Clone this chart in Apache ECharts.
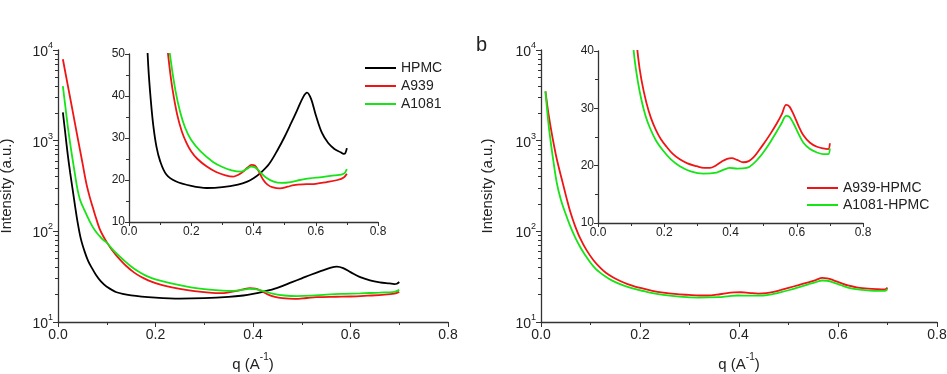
<!doctype html>
<html lang="en">
<head>
<meta charset="utf-8"/>
<title>SAXS intensity curves</title>
<style>
  html, body { margin: 0; padding: 0; background: #fff; }
  #chart { width: 947px; height: 374px; }
</style>
</head>
<body>
<div id="chart"></div>
<script src="https://cdn.jsdelivr.net/npm/echarts@6.0.0/dist/echarts.min.js"></script>
<script>
// panel a: pure HPMC and the two additives (same data feeds the main plot and the inset)
const hpmcQ = [0.01, 0.015, 0.02, 0.025, 0.03, 0.035, 0.04, 0.047, 0.055, 0.062, 0.07, 0.078, 0.088, 0.1, 0.12, 0.15, 0.2, 0.25, 0.3, 0.35, 0.38, 0.4, 0.42, 0.45, 0.48, 0.5, 0.52, 0.54, 0.56, 0.572, 0.585, 0.6, 0.62, 0.64, 0.66, 0.68, 0.69, 0.695, 0.7];
const hpmcI = [2050, 1200, 700, 440, 290, 190, 128, 82, 59, 47, 39, 33, 28, 24.5, 21.3, 19.7, 18.6, 18.1, 18.3, 18.9, 19.6, 20.4, 21.5, 23.8, 27.5, 30.3, 33.4, 36.6, 39.8, 40.8, 39.3, 35.5, 31.2, 28.8, 27.4, 26.6, 26.2, 26.4, 27.6];

const a939Q = [0.01, 0.02, 0.03, 0.04, 0.05, 0.058, 0.065, 0.071, 0.078, 0.085, 0.092, 0.1, 0.11, 0.12, 0.13, 0.14, 0.155, 0.17, 0.185, 0.2, 0.22, 0.25, 0.28, 0.31, 0.335, 0.35, 0.367, 0.38, 0.394, 0.405, 0.415, 0.43, 0.445, 0.46, 0.485, 0.51, 0.53, 0.57, 0.6, 0.635, 0.67, 0.69, 0.7];
const a939I = [7900, 4100, 2130, 1100, 575, 340, 240, 187, 140, 108, 90, 76, 63, 54, 47, 41.5, 35.5, 31.5, 28.8, 26.8, 25, 23.2, 21.9, 21.1, 20.8, 21.2, 22, 22.9, 23.6, 23.4, 22.3, 20.2, 18.9, 18.3, 18, 18.4, 18.8, 19, 19.1, 19.5, 20, 20.6, 21.5];

const a1081Q = [0.01, 0.015, 0.02, 0.025, 0.03, 0.035, 0.04, 0.045, 0.051, 0.058, 0.068, 0.076, 0.085, 0.092, 0.1, 0.11, 0.12, 0.135, 0.15, 0.165, 0.18, 0.2, 0.23, 0.27, 0.3, 0.33, 0.36, 0.38, 0.392, 0.405, 0.42, 0.44, 0.465, 0.49, 0.52, 0.55, 0.58, 0.62, 0.66, 0.69, 0.7];
const a1081I = [4000, 2400, 1450, 930, 620, 420, 290, 225, 187, 155, 120, 102, 89, 81, 75, 65, 57, 48, 41, 36, 32.5, 29.5, 26.8, 24.3, 23.1, 22.3, 22, 22.7, 23.2, 23, 22, 20.6, 19.6, 19.3, 19.5, 20, 20.4, 20.7, 21.1, 21.5, 22.6];

// panel b: the complexes
const a939hQ = [0.009, 0.015, 0.022, 0.03, 0.037, 0.044, 0.051, 0.059, 0.068, 0.079, 0.092, 0.106, 0.121, 0.131, 0.146, 0.16, 0.175, 0.19, 0.207, 0.225, 0.247, 0.27, 0.298, 0.32, 0.338, 0.355, 0.373, 0.39, 0.404, 0.42, 0.439, 0.455, 0.47, 0.485, 0.5, 0.52, 0.54, 0.555, 0.568, 0.578, 0.59, 0.605, 0.62, 0.64, 0.661, 0.68, 0.695, 0.7];
const a939hI = [3500, 2000, 1180, 700, 480, 340, 240, 165, 118, 84, 62, 48, 39, 35, 31, 28.3, 26.2, 24.6, 23.3, 22.1, 21.1, 20.4, 19.9, 19.6, 19.6, 20, 20.7, 21.2, 21.3, 21, 20.6, 20.8, 21.5, 22.6, 23.8, 25.5, 27.4, 29, 30.6, 30.3, 29, 27, 25.3, 24, 23.3, 23, 22.9, 23.9];

const a1081hQ = [0.009, 0.013, 0.017, 0.024, 0.032, 0.04, 0.049, 0.058, 0.069, 0.08, 0.09, 0.1, 0.11, 0.12, 0.131, 0.143, 0.156, 0.175, 0.197, 0.22, 0.247, 0.28, 0.318, 0.358, 0.38, 0.398, 0.42, 0.449, 0.47, 0.485, 0.5, 0.52, 0.54, 0.555, 0.568, 0.578, 0.59, 0.605, 0.62, 0.64, 0.661, 0.68, 0.695, 0.7];
const a1081hI = [3500, 2000, 1250, 650, 340, 225, 160, 118, 86, 66, 54, 45, 38.8, 34.8, 31.5, 28.8, 26.7, 24.4, 22.6, 21.1, 19.9, 19, 18.6, 18.8, 19.3, 19.6, 19.5, 19.6, 20.4, 21.3, 22.4, 24.1, 26, 27.5, 28.7, 28.5, 27.4, 25.6, 24, 22.9, 22.3, 22, 22, 23];

// log-axis minor tick values (2..9 per decade)
const logMinorTicks = [20, 30, 40, 50, 60, 70, 80, 90, 200, 300, 400, 500, 600, 700, 800, 900, 2000, 3000, 4000, 5000, 6000, 7000, 8000, 9000];

const FONT = '"Liberation Sans", Arial, sans-serif';
const INK = '#222';
const RED = '#f01414';
const GREEN = '#16e416';
const BLACK = '#000';

const pair = (qs, vs) => qs.map((q, i) => [q, vs[i]]);
const supRich = {
  b: { fontSize: 14, fontFamily: FONT, color: INK, lineHeight: 18, verticalAlign: 'bottom' },
  s: { fontSize: 9, fontFamily: FONT, color: INK, lineHeight: 18, verticalAlign: 'top' },
};
const nameRich = {
  n: { fontSize: 15, fontFamily: FONT, color: INK, lineHeight: 20, verticalAlign: 'bottom' },
  s: { fontSize: 10, fontFamily: FONT, color: INK, lineHeight: 20, verticalAlign: 'top' },
};

const axLine = { show: true, lineStyle: { color: '#333', width: 1.3 } };

function mainX(gridIndex) {
  return {
    type: 'value', gridIndex, min: 0, max: 0.8, interval: 0.2,
    axisLine: axLine,
    axisTick: { show: true, length: 5, lineStyle: { color: '#333' } },
    minorTick: { show: true, splitNumber: 2, length: 3, lineStyle: { color: '#333' } },
    splitLine: { show: false },
    axisLabel: { fontSize: 14, fontFamily: FONT, color: INK, margin: 6, formatter: v => v.toFixed(1) },
    name: '{n|q (A}{s|-1}{n|)}', nameLocation: 'middle', nameGap: 30,
    nameTextStyle: { rich: nameRich },
  };
}
function insetX(gridIndex) {
  return {
    type: 'value', gridIndex, min: 0, max: 0.8, interval: 0.2,
    axisLine: axLine,
    axisTick: { show: true, length: 4, lineStyle: { color: '#333' } },
    minorTick: { show: true, splitNumber: 2, length: 3, lineStyle: { color: '#333' } },
    splitLine: { show: false },
    axisLabel: { fontSize: 12, fontFamily: FONT, color: INK, margin: 4, formatter: v => v.toFixed(1) },
  };
}
function mainY(gridIndex, gap) {
  return {
    type: 'log', logBase: 10, gridIndex, min: 10, max: 10000, position: 'left',
    axisLine: axLine,
    axisTick: { show: true, length: 5, lineStyle: { color: '#333' } },
    splitLine: { show: false },
    axisLabel: {
      fontFamily: FONT, margin: 5,
      formatter: v => '{b|10}{s|' + Math.round(Math.log10(v)) + '}',
      rich: supRich,
    },
    name: 'Intensity (a.u.)', nameLocation: 'middle', nameGap: gap,
    nameTextStyle: { fontSize: 15, fontFamily: FONT, color: INK },
  };
}
function minorY(gridIndex) {
  return {
    type: 'log', logBase: 10, gridIndex, min: 10, max: 10000, position: 'left',
    axisLine: { show: false },
    axisLabel: { show: false },
    splitLine: { show: false },
    axisTick: { show: true, length: 3, customValues: logMinorTicks, lineStyle: { color: '#333' } },
  };
}
function insetY(gridIndex, max) {
  return {
    type: 'value', gridIndex, min: 10, max, interval: 10,
    axisLine: axLine,
    axisTick: { show: true, length: 4, lineStyle: { color: '#333' } },
    minorTick: { show: true, splitNumber: 2, length: 3, lineStyle: { color: '#333' } },
    splitLine: { show: false },
    axisLabel: { fontSize: 12, fontFamily: FONT, color: INK, margin: 4 },
  };
}
function line(name, data, color, xi, yi) {
  return {
    type: 'line', name, data, xAxisIndex: xi, yAxisIndex: yi,
    symbol: 'none', smooth: 0.35, clip: true,
    lineStyle: { color, width: 1.8 }, itemStyle: { color },
  };
}
const legendText = { fontSize: 14, fontFamily: FONT, color: INK, lineHeight: 16 };

const chart = echarts.init(document.getElementById('chart'), null, { renderer: 'canvas' });
chart.setOption({
  animation: false,
  backgroundColor: '#fff',
  textStyle: { fontFamily: FONT },
  title: { text: 'b', left: 471, top: 30, textStyle: { fontSize: 20, fontWeight: 'normal', color: INK, fontFamily: FONT } },
  grid: [
    { left: 58, top: 50, width: 390, height: 272, outerBoundsMode: 'none' },
    { left: 129, top: 54, width: 249, height: 168, outerBoundsMode: 'none' },
    { left: 541, top: 50, width: 396, height: 272, outerBoundsMode: 'none' },
    { left: 598, top: 51, width: 265, height: 172, outerBoundsMode: 'none' },
  ],
  xAxis: [mainX(0), insetX(1), mainX(2), insetX(3)],
  yAxis: [mainY(0, 44), insetY(1, 50), mainY(2, 46), insetY(3, 40), minorY(0), minorY(2)],
  legend: [
    {
      data: ['HPMC', 'A939', 'A1081'], orient: 'vertical', left: 360, top: 55,
      icon: 'rect', itemWidth: 31, itemHeight: 2, itemGap: 2,
      textStyle: legendText,
    },
    {
      data: ['A939-HPMC', 'A1081-HPMC'], orient: 'vertical', left: 802, top: 175,
      icon: 'rect', itemWidth: 31, itemHeight: 2, itemGap: 1,
      textStyle: legendText,
    },
  ],
  series: [
    line('HPMC', pair(hpmcQ, hpmcI), BLACK, 0, 0),
    line('A939', pair(a939Q, a939I), RED, 0, 0),
    line('A1081', pair(a1081Q, a1081I), GREEN, 0, 0),
    line('HPMC', pair(hpmcQ, hpmcI), BLACK, 1, 1),
    line('A939', pair(a939Q, a939I), RED, 1, 1),
    line('A1081', pair(a1081Q, a1081I), GREEN, 1, 1),
    line('A939-HPMC', pair(a939hQ, a939hI), RED, 2, 2),
    line('A1081-HPMC', pair(a1081hQ, a1081hI), GREEN, 2, 2),
    line('A939-HPMC', pair(a939hQ, a939hI), RED, 3, 3),
    line('A1081-HPMC', pair(a1081hQ, a1081hI), GREEN, 3, 3),
  ],
});
</script>
</body>
</html>
